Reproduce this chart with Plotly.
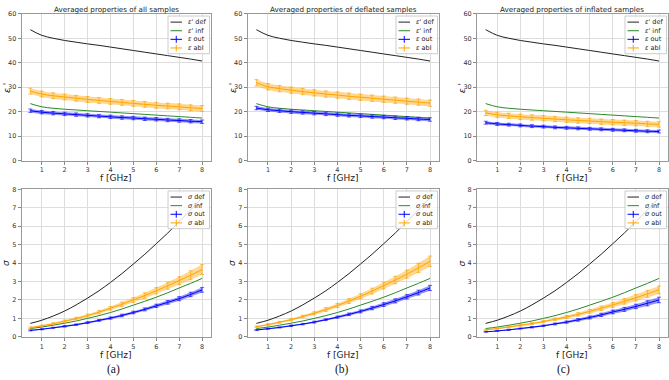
import plotly.graph_objects as go

# ---------------- data ----------------
freq = [0.5, 1.0, 1.5, 2.0, 2.5, 3.0, 3.5, 4.0, 4.5, 5.0, 5.5, 6.0, 6.5, 7.0, 7.5, 8.0]

eps_def = [53.5, 51.2, 50.0, 49.1, 48.4, 47.7, 47.1, 46.4, 45.7, 45.0, 44.3, 43.6, 42.9, 42.2, 41.5, 40.7]
eps_inf = [23.3, 22.0, 21.4, 21.0, 20.7, 20.4, 20.1, 19.8, 19.5, 19.2, 18.9, 18.6, 18.3, 18.0, 17.7, 17.4]

eps_out_all = [20.4, 19.8, 19.4, 19.1, 18.8, 18.5, 18.2, 17.9, 17.6, 17.4, 17.1, 16.9, 16.6, 16.4, 16.1, 15.9]
eps_abl_all = [28.4, 27.2, 26.5, 26.0, 25.5, 25.0, 24.6, 24.2, 23.8, 23.4, 23.0, 22.6, 22.3, 22.0, 21.6, 21.3]
eps_out_def = [21.5, 20.8, 20.4, 20.0, 19.7, 19.4, 19.1, 18.8, 18.5, 18.3, 18.0, 17.8, 17.5, 17.3, 17.0, 16.8]
eps_abl_def = [31.8, 30.2, 29.4, 28.8, 28.2, 27.7, 27.2, 26.8, 26.3, 25.9, 25.5, 25.1, 24.7, 24.3, 23.9, 23.5]
eps_out_inf = [15.5, 15.0, 14.7, 14.4, 14.1, 13.9, 13.6, 13.4, 13.2, 13.0, 12.8, 12.6, 12.4, 12.2, 12.0, 11.9]
eps_abl_inf = [19.5, 18.7, 18.3, 17.9, 17.6, 17.3, 17.0, 16.7, 16.4, 16.2, 15.9, 15.7, 15.5, 15.3, 15.0, 14.8]

eps_out_err_all = [0.7] * 16
eps_abl_err_all = [1.2] * 16
eps_out_err_def = [0.7] * 16
eps_abl_err_def = [1.3] * 16
eps_out_err_inf = [0.6] * 16
eps_abl_err_inf = [1.1] * 16

sig_def = [0.73, 0.90, 1.13, 1.40, 1.73, 2.10, 2.50, 2.95, 3.43, 3.95, 4.48, 5.05, 5.63, 6.25, 6.88, 7.55]
sig_inf = [0.45, 0.53, 0.63, 0.74, 0.86, 1.00, 1.15, 1.32, 1.51, 1.72, 1.93, 2.15, 2.39, 2.65, 2.90, 3.17]

sig_out_all = [0.35, 0.41, 0.49, 0.57, 0.66, 0.77, 0.89, 1.02, 1.16, 1.32, 1.49, 1.68, 1.87, 2.07, 2.30, 2.55]
sig_abl_all = [0.50, 0.59, 0.71, 0.85, 0.99, 1.15, 1.34, 1.55, 1.77, 2.00, 2.24, 2.50, 2.77, 3.05, 3.34, 3.65]
sig_out_def = [0.37, 0.44, 0.51, 0.60, 0.69, 0.80, 0.93, 1.07, 1.22, 1.38, 1.56, 1.75, 1.95, 2.17, 2.40, 2.65]
sig_abl_def = [0.55, 0.66, 0.79, 0.93, 1.10, 1.28, 1.48, 1.70, 1.94, 2.20, 2.48, 2.78, 3.08, 3.40, 3.74, 4.10]
sig_out_inf = [0.27, 0.32, 0.38, 0.45, 0.52, 0.60, 0.70, 0.80, 0.92, 1.05, 1.19, 1.35, 1.49, 1.65, 1.82, 2.00]
sig_abl_inf = [0.38, 0.45, 0.53, 0.63, 0.72, 0.83, 0.95, 1.08, 1.22, 1.38, 1.55, 1.73, 1.92, 2.12, 2.33, 2.55]

sig_out_err_all = [0.03, 0.03, 0.03, 0.04, 0.04, 0.05, 0.05, 0.06, 0.07, 0.07, 0.08, 0.09, 0.10, 0.11, 0.12, 0.13]
sig_abl_err_all = [0.04, 0.05, 0.05, 0.06, 0.07, 0.08, 0.09, 0.10, 0.12, 0.13, 0.15, 0.17, 0.19, 0.21, 0.24, 0.27]
sig_out_err_def = [0.03, 0.03, 0.03, 0.04, 0.04, 0.05, 0.05, 0.06, 0.07, 0.08, 0.09, 0.10, 0.11, 0.12, 0.13, 0.14]
sig_abl_err_def = [0.04, 0.05, 0.05, 0.06, 0.07, 0.08, 0.10, 0.11, 0.13, 0.14, 0.16, 0.18, 0.20, 0.22, 0.25, 0.28]
sig_out_err_inf = [0.02, 0.02, 0.03, 0.03, 0.04, 0.04, 0.05, 0.06, 0.07, 0.08, 0.09, 0.10, 0.11, 0.12, 0.14, 0.15]
sig_abl_err_inf = [0.03, 0.04, 0.04, 0.05, 0.05, 0.06, 0.07, 0.08, 0.09, 0.10, 0.12, 0.13, 0.15, 0.17, 0.19, 0.21]

titles = ["Averaged properties of all samples",
          "Averaged properties of deflated samples",
          "Averaged properties of inflated samples"]
captions = ["(a)", "(b)", "(c)"]
x_ticks = [1, 2, 3, 4, 5, 6, 7, 8]
eps_ticks = [0, 10, 20, 30, 40, 50, 60]
sig_ticks = [0, 1, 2, 3, 4, 5, 6, 7, 8]

eps_names = ["<i>ε</i>' def", "<i>ε</i>' inf", "<i>ε</i> out", "<i>ε</i> abl"]
sig_names = ["<i>σ</i> def", "<i>σ</i> inf", "<i>σ</i> out", "<i>σ</i> abl"]

eps_panels = [
    (eps_out_all, eps_out_err_all, eps_abl_all, eps_abl_err_all),
    (eps_out_def, eps_out_err_def, eps_abl_def, eps_abl_err_def),
    (eps_out_inf, eps_out_err_inf, eps_abl_inf, eps_abl_err_inf),
]
sig_panels = [
    (sig_out_all, sig_out_err_all, sig_abl_all, sig_abl_err_all),
    (sig_out_def, sig_out_err_def, sig_abl_def, sig_abl_err_def),
    (sig_out_inf, sig_out_err_inf, sig_abl_inf, sig_abl_err_inf),
]

# ---------------- styling ----------------
W, H = 669, 380
BLACK = "#222222"
GREEN = "#2a8a2a"
BLUE = "#0000ff"
ORANGE = "#ffa500"
FONT = "DejaVu Sans"
LEG_COLORS = [BLACK, GREEN, BLUE, ORANGE]

x_pix = [(21.7, 210.7), (247.7, 438.7), (477.0, 667.7)]
x_dom = [(a / W, b / W) for a, b in x_pix]
y_dom_top = (1 - 160 / H, 1 - 10 / H)
y_dom_bot = (1 - 340 / H, 1 - 189.3 / H)


def px(x):
    return x / W


def py(y):
    return 1 - y / H


fig = go.Figure()


def add_panel(idx, ref_def, ref_inf, out, out_err, abl, abl_err, names):
    xa = "x" if idx == 1 else f"x{idx}"
    ya = "y" if idx == 1 else f"y{idx}"
    for vals, errs, fillc in [(out, out_err, "rgba(40,40,255,0.5)"),
                              (abl, abl_err, "rgba(255,175,30,0.5)")]:
        lo = [v - e for v, e in zip(vals, errs)]
        hi = [v + e for v, e in zip(vals, errs)]
        fig.add_trace(go.Scatter(x=freq, y=lo, mode="lines", line=dict(width=0, shape="spline"),
                                 xaxis=xa, yaxis=ya, showlegend=False, hoverinfo="skip"))
        fig.add_trace(go.Scatter(x=freq, y=hi, mode="lines", line=dict(width=0, shape="spline"),
                                 fill="tonexty", fillcolor=fillc,
                                 xaxis=xa, yaxis=ya, showlegend=False, hoverinfo="skip"))
    fig.add_trace(go.Scatter(x=freq, y=ref_def, mode="lines", name=names[0],
                             line=dict(color=BLACK, width=1, shape="spline"),
                             xaxis=xa, yaxis=ya, showlegend=False))
    fig.add_trace(go.Scatter(x=freq, y=ref_inf, mode="lines", name=names[1],
                             line=dict(color=GREEN, width=1, shape="spline"),
                             xaxis=xa, yaxis=ya, showlegend=False))
    fig.add_trace(go.Scatter(x=freq, y=out, mode="lines", name=names[2],
                             line=dict(color=BLUE, width=1, shape="spline"),
                             error_y=dict(type="data", array=out_err, visible=True,
                                          color="rgba(0,0,255,0.75)", thickness=0.8, width=2),
                             xaxis=xa, yaxis=ya, showlegend=False))
    fig.add_trace(go.Scatter(x=freq, y=abl, mode="lines", name=names[3],
                             line=dict(color=ORANGE, width=1, shape="spline"),
                             error_y=dict(type="data", array=abl_err, visible=True,
                                          color="rgba(255,165,0,0.85)", thickness=0.8, width=2),
                             xaxis=xa, yaxis=ya, showlegend=False))


layout = dict(width=W, height=H, margin=dict(l=0, r=0, t=0, b=0),
              paper_bgcolor="white", plot_bgcolor="white", showlegend=False,
              font=dict(family=FONT, size=7, color="#333333"))

annotations = []
shapes = []


def add_legend(right, top, names):
    left = right - 41.5
    bottom = top + 38.5
    shapes.append(dict(type="rect", xref="paper", yref="paper",
                       x0=px(left), x1=px(right), y0=py(bottom), y1=py(top),
                       line=dict(color="#cccccc", width=1), fillcolor="rgba(255,255,255,0.8)",
                       layer="above"))
    for i, (name, colr) in enumerate(zip(names, LEG_COLORS)):
        yc = top + 6.2 + 8.8 * i
        shapes.append(dict(type="line", xref="paper", yref="paper",
                           x0=px(right - 39), x1=px(right - 27.5), y0=py(yc), y1=py(yc),
                           line=dict(color=colr, width=1), layer="above"))
        if i >= 2:
            xm = right - 33.25
            shapes.append(dict(type="line", xref="paper", yref="paper",
                               x0=px(xm), x1=px(xm), y0=py(yc - 3.5), y1=py(yc + 3.5),
                               line=dict(color=colr, width=1), layer="above"))
        annotations.append(dict(text=name, x=px(right - 23.5), y=py(yc), xref="paper", yref="paper",
                                xanchor="left", yanchor="middle", showarrow=False,
                                font=dict(size=6.5, color="#222")))


for col in range(3):
    top_idx = col + 1
    bot_idx = col + 4
    out, oerr, abl, aerr = eps_panels[col]
    add_panel(top_idx, eps_def, eps_inf, out, oerr, abl, aerr, eps_names)
    out, oerr, abl, aerr = sig_panels[col]
    add_panel(bot_idx, sig_def, sig_inf, out, oerr, abl, aerr, sig_names)

    for idx, ydom, yrange, yticks in [(top_idx, y_dom_top, [0, 60], eps_ticks),
                                      (bot_idx, y_dom_bot, [0, 8], sig_ticks)]:
        xk = "xaxis" if idx == 1 else f"xaxis{idx}"
        yk = "yaxis" if idx == 1 else f"yaxis{idx}"
        ya_ref = "y" if idx == 1 else f"y{idx}"
        xa_ref = "x" if idx == 1 else f"x{idx}"
        layout[xk] = dict(domain=list(x_dom[col]), anchor=ya_ref, range=[0.125, 8.375],
                          tickvals=x_ticks, ticks="outside", ticklen=3, tickcolor="#888",
                          showline=True, mirror=True, linecolor="#999", linewidth=1,
                          showgrid=True, gridcolor="#dddddd", gridwidth=1, zeroline=False,
                          tickfont=dict(size=6.5, color="#333"))
        layout[yk] = dict(domain=list(ydom), anchor=xa_ref, range=yrange,
                          tickvals=yticks, ticks="outside", ticklen=3, tickcolor="#888",
                          showline=True, mirror=True, linecolor="#999", linewidth=1,
                          showgrid=True, gridcolor="#dddddd", gridwidth=1, zeroline=False,
                          tickfont=dict(size=6.5, color="#333"))

    right_edge = x_pix[col][1] - 1.2
    add_legend(right_edge, 12.3, eps_names)
    add_legend(right_edge, 191.0, sig_names)

    xc = (x_dom[col][0] + x_dom[col][1]) / 2
    annotations.append(dict(text=titles[col], x=xc, y=py(5.5), xref="paper", yref="paper",
                            xanchor="center", yanchor="middle", showarrow=False,
                            font=dict(size=7.2, color="#222")))
    for ylab in (177.5, 359.0):
        annotations.append(dict(text="f [GHz]", x=xc, y=py(ylab), xref="paper", yref="paper",
                                xanchor="center", yanchor="middle", showarrow=False,
                                font=dict(size=9, color="#222")))
    annotations.append(dict(text=captions[col], x=px([113, 342, 563][col]), y=py(373.5),
                            xref="paper", yref="paper", xanchor="center", yanchor="middle",
                            showarrow=False,
                            font=dict(size=11.5, color="#111", family="Liberation Serif")))
    ylx = x_dom[col][0] - 15 / W
    annotations.append(dict(text="<i>ε</i> '", x=ylx, y=py(86), xref="paper", yref="paper",
                            xanchor="center", yanchor="middle", showarrow=False, textangle=-90,
                            font=dict(size=9, color="#222")))
    annotations.append(dict(text="<i>σ</i>", x=ylx, y=py(265), xref="paper", yref="paper",
                            xanchor="center", yanchor="middle", showarrow=False, textangle=-90,
                            font=dict(size=9, color="#222")))

layout["annotations"] = annotations
layout["shapes"] = shapes
fig.update_layout(**layout)
fig.write_html("out.html", config={"displayModeBar": False},
               post_script="document.body.style.margin='0';document.body.style.overflow='hidden';")
